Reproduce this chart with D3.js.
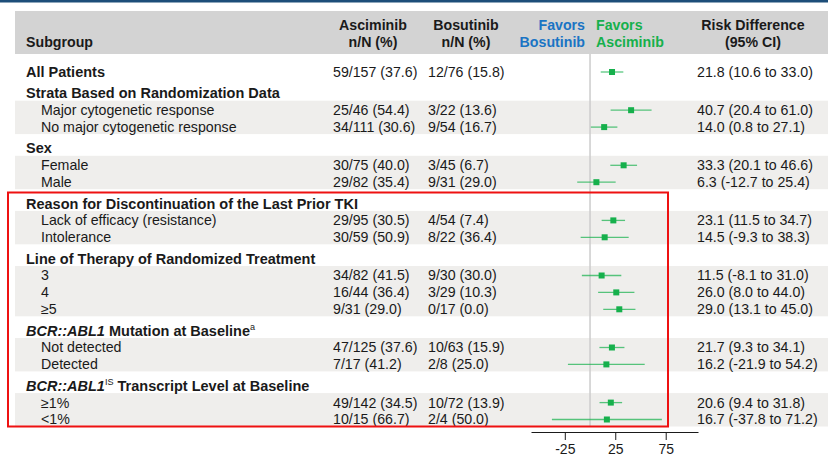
<!DOCTYPE html>
<html>
<head>
<meta charset="utf-8">
<script src="https://cdn.jsdelivr.net/npm/d3@7"></script>
<style>
  body { margin: 0; background: #fff; }
  svg { display: block; font-family: "Liberation Sans", Arial, sans-serif; }
</style>
</head>
<body>
<svg id="chart"></svg>
<script>
// Row kinds: 'group' = bold subgroup heading, 'item' = indented category
const rowKinds = ['group', 'group', 'item', 'item', 'group', 'item', 'item',
  'group', 'item', 'item', 'group', 'item', 'item', 'item',
  'group', 'item', 'item', 'group', 'item', 'item'];

// label pieces: [text, style] where style is '', 'i' (italic) or 'sup'
const rowLabels = [
  [['All Patients', '']],
  [['Strata Based on Randomization Data', '']],
  [['Major cytogenetic response', '']],
  [['No major cytogenetic response', '']],
  [['Sex', '']],
  [['Female', '']],
  [['Male', '']],
  [['Reason for Discontinuation of the Last Prior TKI', '']],
  [['Lack of efficacy (resistance)', '']],
  [['Intolerance', '']],
  [['Line of Therapy of Randomized Treatment', '']],
  [['3', '']],
  [['4', '']],
  [['≥5', '']],
  [['BCR::ABL1', 'i'], [' Mutation at Baseline', ''], ['a', 'sup']],
  [['Not detected', '']],
  [['Detected', '']],
  [['BCR::ABL1', 'i'], ['IS', 'sup'], [' Transcript Level at Baseline', '']],
  [['≥1%', '']],
  [['<1%', '']],
];

const asciminibText = ['59/157 (37.6)', null, '25/46 (54.4)', '34/111 (30.6)', null, '30/75 (40.0)', '29/82 (35.4)',
  null, '29/95 (30.5)', '30/59 (50.9)', null, '34/82 (41.5)', '16/44 (36.4)', '9/31 (29.0)',
  null, '47/125 (37.6)', '7/17 (41.2)', null, '49/142 (34.5)', '10/15 (66.7)'];

const bosutinibText = ['12/76 (15.8)', null, '3/22 (13.6)', '9/54 (16.7)', null, '3/45 (6.7)', '9/31 (29.0)',
  null, '4/54 (7.4)', '8/22 (36.4)', null, '9/30 (30.0)', '3/29 (10.3)', '0/17 (0.0)',
  null, '10/63 (15.9)', '2/8 (25.0)', null, '10/72 (13.9)', '2/4 (50.0)'];

const riskDiff = [21.8, null, 40.7, 14.0, null, 33.3, 6.3, null, 23.1, 14.5, null, 11.5, 26.0, 29.0,
  null, 21.7, 16.2, null, 20.6, 16.7];
const ciLow = [10.6, null, 20.4, 0.8, null, 20.1, -12.7, null, 11.5, -9.3, null, -8.1, 8.0, 13.1,
  null, 9.3, -21.9, null, 9.4, -37.8];
const ciHigh = [33.0, null, 61.0, 27.1, null, 46.6, 25.4, null, 34.7, 38.3, null, 31.0, 44.0, 45.0,
  null, 34.1, 54.2, null, 31.8, 71.2];

const axisTicks = [-25, 25, 75];
const axisDomain = [-58.5, 107];

const width = 828, height = 457;
const fontSize = 14.2;
const boldSize = 14.5;
const green = '#16b04c';
const blue = '#1a74c4';

const svg = d3.select('#chart')
  .attr('width', width)
  .attr('height', height);

// Row y positions: groups get a larger step than items
const rowY = [];
let yCursor = 72;
rowKinds.forEach((k, i) => {
  if (i > 0) yCursor += (k === 'group' ? 21.3 : 16.9);
  rowY.push(yCursor);
});

const x = d3.scaleLinear().domain(axisDomain).range([531, 698]);

// top rule
svg.append('rect')
  .attr('x', 0).attr('y', 0)
  .attr('width', width).attr('height', 2.5)
  .attr('fill', '#1d4e79');

// header band
svg.append('rect')
  .attr('x', 15).attr('y', 11)
  .attr('width', width - 15).attr('height', 43)
  .attr('fill', '#d3d3d3');

// shaded bands behind item blocks
const blocks = [];
rowKinds.forEach((k, i) => {
  if (k === 'item') {
    if (rowKinds[i - 1] === 'item') blocks[blocks.length - 1].last = i;
    else blocks.push({ first: i, last: i });
  }
});
svg.append('g')
  .selectAll('rect')
  .data(blocks)
  .join('rect')
  .attr('x', 15)
  .attr('width', width - 15)
  .attr('y', (d) => rowY[d.first] - 9.5)
  .attr('height', (d) => rowY[d.last] - rowY[d.first] + 16.5)
  .attr('fill', '#efeeec');

// zero reference line
svg.append('line')
  .attr('x1', x(0)).attr('x2', x(0))
  .attr('y1', 54).attr('y2', 427)
  .attr('stroke', '#cccccc')
  .attr('stroke-width', 1.5);

// header text
const header = svg.append('g')
  .attr('font-weight', 'bold')
  .attr('font-size', fontSize)
  .attr('fill', '#1a1a1a');

function headText(tx, ty, str, anchor, color) {
  header.append('text')
    .attr('x', tx).attr('y', ty)
    .attr('dy', '0.35em')
    .attr('text-anchor', anchor)
    .attr('fill', color || '#1a1a1a')
    .text(str);
}
headText(26, 42, 'Subgroup', 'start');
headText(373, 25, 'Asciminib', 'middle');
headText(373, 42, 'n/N (%)', 'middle');
headText(466, 25, 'Bosutinib', 'middle');
headText(466, 42, 'n/N (%)', 'middle');
headText(585, 25, 'Favors', 'end', blue);
headText(585, 42, 'Bosutinib', 'end', blue);
headText(596, 25, 'Favors', 'start', green);
headText(596, 42, 'Asciminib', 'start', green);
headText(753, 25, 'Risk Difference', 'middle');
headText(753, 42, '(95% CI)', 'middle');

// row labels
const rows = svg.append('g')
  .attr('fill', '#1a1a1a');

const supShift = 0.38 * fontSize;
rowLabels.forEach((parts, i) => {
  const isGroup = rowKinds[i] === 'group';
  const t = rows.append('text')
    .attr('x', isGroup ? 26 : 41)
    .attr('y', rowY[i])
    .attr('dy', '0.35em')
    .attr('font-size', isGroup ? boldSize : fontSize)
    .attr('font-weight', isGroup ? 'bold' : 'normal');
  let raised = false;
  parts.forEach(([str, style]) => {
    const span = t.append('tspan').text(str);
    if (style === 'i') span.attr('font-style', 'italic');
    if (style === 'sup') {
      span.attr('font-size', fontSize * 0.64)
        .attr('font-weight', 'normal')
        .attr('dy', `${-supShift}px`);
      raised = true;
    } else if (raised) {
      span.attr('dy', `${supShift}px`);
      raised = false;
    }
  });
});

// n/N columns and risk difference text
const cols = svg.append('g')
  .attr('font-size', fontSize)
  .attr('fill', '#1a1a1a');

cols.selectAll('.asc')
  .data(asciminibText.map((v, i) => ({ v, i })).filter((d) => d.v))
  .join('text')
  .attr('class', 'asc')
  .attr('x', 333)
  .attr('y', (d) => rowY[d.i])
  .attr('dy', '0.35em')
  .text((d) => d.v);

cols.selectAll('.bos')
  .data(bosutinibText.map((v, i) => ({ v, i })).filter((d) => d.v))
  .join('text')
  .attr('class', 'bos')
  .attr('x', 428)
  .attr('y', (d) => rowY[d.i])
  .attr('dy', '0.35em')
  .text((d) => d.v);

const estimates = riskDiff.map((v, i) => ({ v, lo: ciLow[i], hi: ciHigh[i], i }))
  .filter((d) => d.v !== null);

cols.selectAll('.rd')
  .data(estimates)
  .join('text')
  .attr('class', 'rd')
  .attr('x', 697)
  .attr('y', (d) => rowY[d.i])
  .attr('dy', '0.35em')
  .text((d) => `${d.v.toFixed(1)} (${d.lo.toFixed(1)} to ${d.hi.toFixed(1)})`);

// forest marks
const marks = svg.append('g');
marks.selectAll('.ci')
  .data(estimates)
  .join('line')
  .attr('class', 'ci')
  .attr('x1', (d) => x(d.lo))
  .attr('x2', (d) => x(d.hi))
  .attr('y1', (d) => rowY[d.i])
  .attr('y2', (d) => rowY[d.i])
  .attr('stroke', green)
  .attr('stroke-opacity', 0.7)
  .attr('stroke-width', 1.3);

marks.selectAll('.pt')
  .data(estimates)
  .join('rect')
  .attr('class', 'pt')
  .attr('x', (d) => x(d.v) - 3)
  .attr('y', (d) => rowY[d.i] - 3)
  .attr('width', 6)
  .attr('height', 6)
  .attr('fill', green);

// x axis
const xAxis = d3.axisBottom(x)
  .tickValues(axisTicks)
  .tickSizeOuter(0)
  .tickSizeInner(8)
  .tickPadding(4)
  .tickFormat((d) => String(d));

const axisG = svg.append('g')
  .attr('transform', 'translate(0,432)')
  .call(xAxis);
axisG.selectAll('text')
  .attr('font-size', 14)
  .attr('font-family', '"Liberation Sans", Arial, sans-serif')
  .attr('fill', '#1a1a1a');
axisG.selectAll('line, path').attr('stroke', '#1a1a1a');

// red highlight box
svg.append('rect')
  .attr('x', 8)
  .attr('y', rowY[7] - 11)
  .attr('width', 660)
  .attr('height', rowY[rowY.length - 1] + 7 - (rowY[7] - 11))
  .attr('fill', 'none')
  .attr('stroke', '#ee1111')
  .attr('stroke-width', 2);
</script>
</body>
</html>
